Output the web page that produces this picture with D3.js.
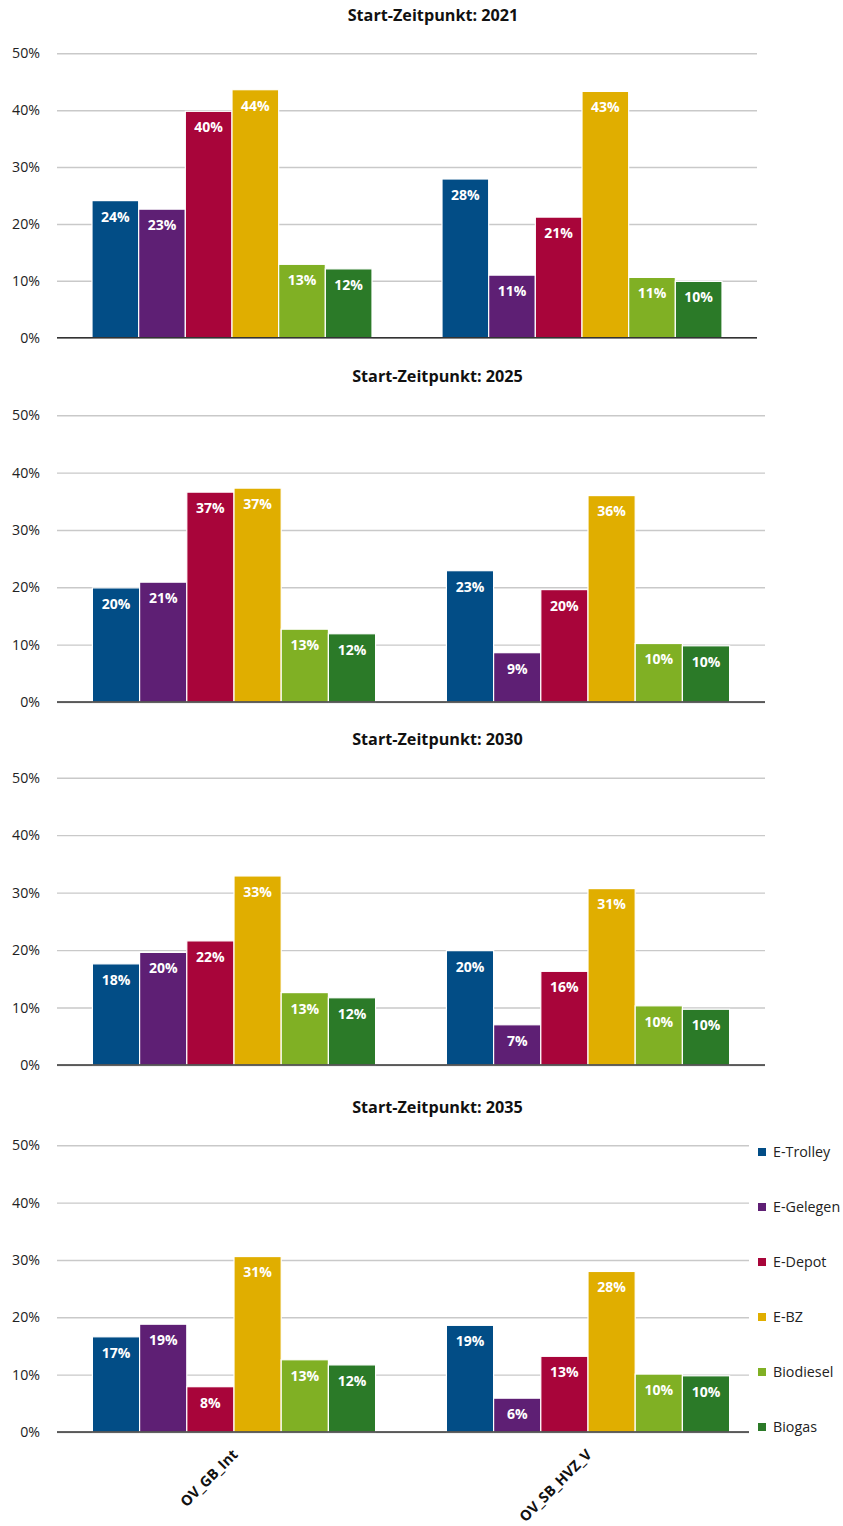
<!DOCTYPE html>
<html>
<head>
<meta charset="utf-8">
<script src="https://cdn.jsdelivr.net/npm/d3@7"></script>
<style>
  html, body { margin: 0; padding: 0; background: #fff; }
  svg { display: block; font-family: "Open Sans", "Noto Sans", sans-serif; }
</style>
</head>
<body>
<svg id="chart" width="843" height="1526"></svg>
<script>
// Categories on the x axis and the six drive technologies
const categories = ["OV_GB_Int", "OV_SB_HVZ_V"];
const series = ["E-Trolley", "E-Gelegen", "E-Depot", "E-BZ", "Biodiesel", "Biogas"];
const seriesColors = ["#024d86", "#5e1f74", "#a8053a", "#e0ae00", "#80b024", "#2b7a28"];
const startYears = [2021, 2025, 2030, 2035];
const yTicks = [0, 10, 20, 30, 40, 50];

// Shares in percent, one row per category, columns in series order
const shares2021 = [
  [24.1, 22.6, 39.8, 43.6, 12.9, 12.1],
  [27.9, 11.0, 21.2, 43.3, 10.6, 9.9]
];
const shares2025 = [
  [19.9, 20.9, 36.6, 37.3, 12.7, 11.9],
  [22.9, 8.6, 19.6, 36.0, 10.2, 9.8]
];
const shares2030 = [
  [17.6, 19.6, 21.6, 32.9, 12.6, 11.7],
  [19.9, 7.0, 16.3, 30.7, 10.3, 9.7]
];
const shares2035 = [
  [16.6, 18.8, 7.9, 30.6, 12.6, 11.7],
  [18.6, 5.9, 13.2, 28.0, 10.1, 9.8]
];
const sharesByYear = [shares2021, shares2025, shares2030, shares2035];

// Panel frames: plot area in page pixels
const panels = [
  { top: 53.3,   bottom: 337.7,  left: 57, right: 757, gridRight: 757, titleX: 433,   titleY: 20.5 },
  { top: 415.3,  bottom: 702,    left: 57, right: 765, gridRight: 765, titleX: 437.5, titleY: 381.5 },
  { top: 777.7,  bottom: 1065,   left: 57, right: 765, gridRight: 765, titleX: 437.5, titleY: 745 },
  { top: 1145.3, bottom: 1432,   left: 57, right: 765, gridRight: 749, titleX: 437.5, titleY: 1112.5 }
];

const svg = d3.select("#chart");
const pct = d3.format(".0%");

panels.forEach((p, pi) => {
  const data = sharesByYear[pi];
  const g = svg.append("g");

  const y = d3.scaleLinear().domain([0, 50]).range([p.bottom, p.top]);
  const x0 = d3.scaleBand().domain(categories).range([p.left, p.right]).padding(0);
  const x1 = d3.scaleBand().domain(series)
    .range([x0.bandwidth() * 0.1, x0.bandwidth() * 0.9]).padding(0);

  // Title
  g.append("text")
    .attr("x", p.titleX).attr("y", p.titleY)
    .attr("text-anchor", "middle")
    .attr("font-size", 16.2).attr("font-weight", 700).attr("fill", "#111")
    .text("Start-Zeitpunkt: " + startYears[pi]);

  // Gridlines + y tick labels
  const yAxis = d3.axisLeft(y).tickValues(yTicks)
    .tickSize(-(p.gridRight - p.left)).tickPadding(17)
    .tickFormat(d => d + "%");
  const ga = g.append("g").attr("transform", `translate(${p.left},0)`).call(yAxis);
  ga.select(".domain").remove();
  ga.selectAll(".tick line").attr("stroke", "#c9c9c9").attr("stroke-width", 1.4);
  ga.selectAll(".tick text")
    .attr("font-size", 14.2).attr("fill", "#222")
    .attr("font-family", "'Open Sans', sans-serif");

  // Bars
  const groups = g.selectAll("g.cat").data(categories).join("g")
    .attr("class", "cat")
    .attr("transform", d => `translate(${x0(d)},0)`);

  groups.each(function (cat, ci) {
    const row = series.map((s, si) => ({ s, si, v: data[ci][si] }));
    const cg = d3.select(this);
    cg.selectAll("rect").data(row).join("rect")
      .attr("x", d => x1(d.s))
      .attr("y", d => y(d.v))
      .attr("width", x1.bandwidth())
      .attr("height", d => y(0) - y(d.v))
      .attr("fill", d => seriesColors[d.si])
      .attr("stroke", "#fff").attr("stroke-width", 1.2);
    cg.selectAll("text").data(row).join("text")
      .attr("x", d => x1(d.s) + x1.bandwidth() / 2)
      .attr("y", d => y(d.v) + 16)
      .attr("dy", "0.35em")
      .attr("text-anchor", "middle")
      .attr("font-size", 14).attr("font-weight", 700).attr("fill", "#fff")
      .text(d => pct(d.v / 100));
  });

  // Baseline
  g.append("line")
    .attr("x1", p.left).attr("x2", p.gridRight)
    .attr("y1", y(0)).attr("y2", y(0))
    .attr("stroke", "#333").attr("stroke-width", 1.5);

  // Category labels under the last panel
  if (pi === panels.length - 1) {
    g.selectAll("text.cat-label").data(categories).join("text")
      .attr("class", "cat-label")
      .attr("transform", d => `translate(${x0(d) + x0.bandwidth() / 2 + 1},${y(0) + 20}) rotate(-45)`)
      .attr("text-anchor", "end")
      .attr("dy", "0.35em")
      .attr("font-size", 14.5).attr("font-weight", 700).attr("fill", "#111")
      .text(d => d);

    // Legend
    const legendY = d3.scalePoint().domain(series).range([1152, 1427]);
    const lg = g.append("g");
    const items = lg.selectAll("g").data(series).join("g")
      .attr("transform", d => `translate(758,${legendY(d)})`);
    items.append("rect")
      .attr("x", 0).attr("y", -4).attr("width", 8).attr("height", 8)
      .attr("fill", (d, i) => seriesColors[i]);
    items.append("text")
      .attr("x", 15).attr("dy", "0.35em")
      .attr("font-size", 14.3).attr("fill", "#222")
      .text(d => d);
  }
});
</script>
</body>
</html>
